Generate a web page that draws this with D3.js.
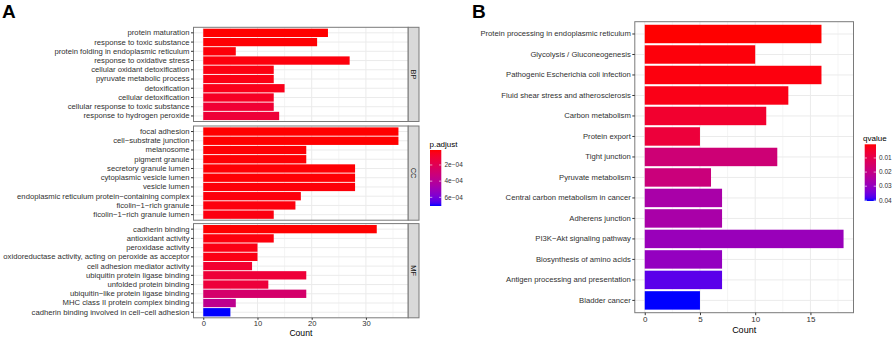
<!DOCTYPE html>
<html>
<head>
<meta charset="utf-8">
<script src="https://cdn.jsdelivr.net/npm/d3@7"></script>
<style>
  body { margin: 0; background: #fff; }
  text { font-family: "Liberation Sans", Arial, sans-serif; }
</style>
</head>
<body>
<svg id="chart" width="892" height="338"></svg>
<script>
// ---- panel A : GO enrichment (three ontologies) ----
const bpTerms = ["protein maturation", "response to toxic substance", "protein folding in endoplasmic reticulum",
  "response to oxidative stress", "cellular oxidant detoxification", "pyruvate metabolic process",
  "detoxification", "cellular detoxification", "cellular response to toxic substance", "response to hydrogen peroxide"]
const bpCount = [23, 21, 6, 27, 13, 13, 15, 13, 13, 14]
const bpPadj = [1.5e-5, 2e-5, 2.5e-5, 3e-5, 3.5e-5, 4e-5, 5e-5, 7e-5, 1.1e-4, 1.2e-4]

const ccTerms = ["focal adhesion", "cell\u2212substrate junction", "melanosome", "pigment granule",
  "secretory granule lumen", "cytoplasmic vesicle lumen", "vesicle lumen",
  "endoplasmic reticulum protein\u2212containing complex", "ficolin\u22121\u2212rich granule", "ficolin\u22121\u2212rich granule lumen"]
const ccCount = [36, 36, 19, 19, 28, 28, 28, 18, 17, 13]
const ccPadj = [1.5e-5, 1.5e-5, 2e-5, 2e-5, 2e-5, 2e-5, 2.5e-5, 3e-5, 3e-5, 3.5e-5]

const mfTerms = ["cadherin binding", "antioxidant activity", "peroxidase activity",
  "oxidoreductase activity, acting on peroxide as acceptor", "cell adhesion mediator activity",
  "ubiquitin protein ligase binding", "unfolded protein binding", "ubiquitin\u2212like protein ligase binding",
  "MHC class II protein complex binding", "cadherin binding involved in cell\u2212cell adhesion"]
const mfCount = [32, 13, 10, 10, 9, 19, 12, 19, 6, 5]
const mfPadj = [1.5e-5, 3e-5, 4e-5, 4e-5, 1e-4, 1.2e-4, 1.3e-4, 2.7e-4, 3.8e-4, 7.07e-4]

const facetNames = ["BP", "CC", "MF"]
const countTicksA = [0, 10, 20, 30]
const padjTicks = [2e-4, 4e-4, 6e-4]
const padjLabels = ["2e\u221204", "4e\u221204", "6e\u221204"]

// ---- panel B : KEGG enrichment ----
const keggTerms = ["Protein processing in endoplasmic reticulum", "Glycolysis / Gluconeogenesis",
  "Pathogenic Escherichia coli infection", "Fluid shear stress and atherosclerosis", "Carbon metabolism",
  "Protein export", "Tight junction", "Pyruvate metabolism", "Central carbon metabolism in cancer",
  "Adherens junction", "PI3K\u2212Akt signaling pathway", "Biosynthesis of amino acids",
  "Antigen processing and presentation", "Bladder cancer"]
const keggCount = [16, 10, 16, 13, 11, 5, 12, 6, 7, 7, 18, 7, 7, 5]
const keggQ = [0.0003, 0.001, 0.0012, 0.002, 0.005, 0.007, 0.017, 0.018, 0.026, 0.026, 0.029, 0.030, 0.037, 0.0405]
const countTicksB = [0, 5, 10, 15]
const qTicks = [0.01, 0.02, 0.03, 0.04]

const svg = d3.select("#chart")
const borderCol = "#7a7a7a"
const gridCol = "#ebebeb"
const labelCol = "#303030"
const yFont = "7.7px"

function gradient(id, scale) {
  let grad = svg.append("defs").append("linearGradient").attr("id", id)
    .attr("x1", 0).attr("y1", 0).attr("x2", 0).attr("y2", 1)
  let dom = scale.domain()
  d3.range(0, 1.0001, 0.05).forEach(t => {
    grad.append("stop").attr("offset", t).attr("stop-color", scale(dom[0] + t * (dom[1] - dom[0])))
  })
}

// ===================== panel A =====================
let xA = d3.scaleLinear().domain([-1.8, 37.8]).range([193.5, 408.2])
let colA = d3.scaleLinear().domain([1.5e-5, 7.07e-4]).range(["red", "blue"]).interpolate(d3.interpolateLab)

let facets = [
  {name: "BP", terms: bpTerms, count: bpCount, padj: bpPadj, top: 27.3},
  {name: "CC", terms: ccTerms, count: ccCount, padj: ccPadj, top: 126},
  {name: "MF", terms: mfTerms, count: mfCount, padj: mfPadj, top: 223.6},
]
let facetH = 94.2

facets.forEach(f => {
  let g = svg.append("g")
  let y = d3.scaleBand().domain(f.terms).range([f.top, f.top + facetH]).paddingInner(0.1).paddingOuter(0.15)
  let rows = f.terms.map((t, i) => ({term: t, count: f.count[i], padj: f.padj[i]}))

  // grid
  g.append("g").selectAll("line.minor").data([5, 15, 25, 35]).enter().append("line")
    .attr("x1", d => xA(d)).attr("x2", d => xA(d)).attr("y1", f.top).attr("y2", f.top + facetH)
    .attr("stroke", gridCol).attr("stroke-width", 0.5)
  g.append("g").selectAll("line.major").data(countTicksA).enter().append("line")
    .attr("x1", d => xA(d)).attr("x2", d => xA(d)).attr("y1", f.top).attr("y2", f.top + facetH)
    .attr("stroke", gridCol).attr("stroke-width", 1)
  g.append("g").selectAll("line.h").data(f.terms).enter().append("line")
    .attr("x1", xA.range()[0]).attr("x2", xA.range()[1])
    .attr("y1", d => y(d) + y.bandwidth() / 2).attr("y2", d => y(d) + y.bandwidth() / 2)
    .attr("stroke", gridCol).attr("stroke-width", 1)

  // bars
  g.append("g").selectAll("rect").data(rows).enter().append("rect")
    .attr("x", xA(0)).attr("y", d => y(d.term))
    .attr("width", d => xA(d.count) - xA(0)).attr("height", y.bandwidth())
    .attr("fill", d => colA(d.padj))

  // border
  g.append("rect").attr("x", xA.range()[0]).attr("y", f.top)
    .attr("width", xA.range()[1] - xA.range()[0]).attr("height", facetH)
    .attr("fill", "none").attr("stroke", borderCol).attr("stroke-width", 1)

  // y axis
  let ax = d3.axisLeft(y).tickSize(2.5).tickPadding(1.5)
  let axg = g.append("g").attr("transform", `translate(${xA.range()[0]},0)`).call(ax)
  axg.select(".domain").remove()
  axg.selectAll("line").attr("stroke", "#333")
  axg.selectAll("text").attr("fill", labelCol).style("font-size", yFont).style("font-family", "Liberation Sans, Arial, sans-serif")

  // strip
  let sx = xA.range()[1]
  g.append("rect").attr("x", sx).attr("y", f.top).attr("width", 10.8).attr("height", facetH)
    .attr("fill", "#d9d9d9").attr("stroke", borderCol).attr("stroke-width", 1)
  g.append("text").attr("transform", `translate(${sx + 5.4},${f.top + facetH / 2}) rotate(90)`)
    .attr("text-anchor", "middle").attr("dy", "0.35em").style("font-size", "7.5px").attr("fill", "#1a1a1a")
    .text(f.name)
})

// x axis A
let axA = svg.append("g").attr("transform", `translate(0,${223.6 + facetH})`)
  .call(d3.axisBottom(xA).tickValues(countTicksA).tickSize(2).tickPadding(1))
axA.select(".domain").remove()
axA.selectAll("line").attr("stroke", "#333")
axA.selectAll("text").attr("fill", labelCol).style("font-size", "7.6px").style("font-family", "Liberation Sans, Arial, sans-serif")
svg.append("text").attr("x", (xA.range()[0] + xA.range()[1]) / 2).attr("y", 335.8)
  .attr("text-anchor", "middle").style("font-size", "8.6px").text("Count")

// legend A
gradient("gradA", colA)
let legA = d3.scaleLinear().domain(colA.domain()).range([150, 206])
svg.append("text").attr("x", 429.5).attr("y", 146.5).style("font-size", "8px").text("p.adjust")
svg.append("rect").attr("x", 430).attr("y", 150).attr("width", 11.3).attr("height", 56).attr("fill", "url(#gradA)")
padjTicks.forEach((v, i) => {
  let yy = legA(v)
  svg.append("line").attr("x1", 430).attr("x2", 432.3).attr("y1", yy).attr("y2", yy).attr("stroke", "#fff").attr("stroke-width", 0.6)
  svg.append("line").attr("x1", 439).attr("x2", 441.3).attr("y1", yy).attr("y2", yy).attr("stroke", "#fff").attr("stroke-width", 0.6)
  svg.append("text").attr("x", 444.5).attr("y", yy).attr("dy", "0.35em").style("font-size", "6.5px")
    .attr("fill", labelCol).text(padjLabels[i])
})

svg.append("text").attr("x", 2).attr("y", 18).style("font-size", "19px").style("font-weight", "bold").text("A")

// ===================== panel B =====================
let xB = d3.scaleLinear().domain([-0.9, 18.9]).range([634.8, 853.5])
let yB = d3.scaleBand().domain(keggTerms).range([21.7, 312.7]).paddingInner(0.1).paddingOuter(0.15)
let colB = d3.scaleLinear().domain([0.0003, 0.0405]).range(["red", "blue"]).interpolate(d3.interpolateLab)
let rowsB = keggTerms.map((t, i) => ({term: t, count: keggCount[i], q: keggQ[i]}))
let gB = svg.append("g")

gB.append("g").selectAll("line").data([2.5, 7.5, 12.5, 17.5]).enter().append("line")
  .attr("x1", d => xB(d)).attr("x2", d => xB(d)).attr("y1", 21.7).attr("y2", 312.7)
  .attr("stroke", gridCol).attr("stroke-width", 0.5)
gB.append("g").selectAll("line").data(countTicksB).enter().append("line")
  .attr("x1", d => xB(d)).attr("x2", d => xB(d)).attr("y1", 21.7).attr("y2", 312.7)
  .attr("stroke", gridCol).attr("stroke-width", 1)
gB.append("g").selectAll("line").data(keggTerms).enter().append("line")
  .attr("x1", 634.8).attr("x2", 853.5)
  .attr("y1", d => yB(d) + yB.bandwidth() / 2).attr("y2", d => yB(d) + yB.bandwidth() / 2)
  .attr("stroke", gridCol).attr("stroke-width", 1)

gB.append("g").selectAll("rect").data(rowsB).enter().append("rect")
  .attr("x", xB(0)).attr("y", d => yB(d.term))
  .attr("width", d => xB(d.count) - xB(0)).attr("height", yB.bandwidth())
  .attr("fill", d => colB(d.q))

gB.append("rect").attr("x", 634.8).attr("y", 21.7).attr("width", 853.5 - 634.8).attr("height", 312.7 - 21.7)
  .attr("fill", "none").attr("stroke", borderCol).attr("stroke-width", 1)

let ayB = gB.append("g").attr("transform", "translate(634.8,0)").call(d3.axisLeft(yB).tickSize(2.5).tickPadding(1.5))
ayB.select(".domain").remove()
ayB.selectAll("line").attr("stroke", "#333")
ayB.selectAll("text").attr("fill", labelCol).style("font-size", yFont).style("font-family", "Liberation Sans, Arial, sans-serif")

let axB = gB.append("g").attr("transform", "translate(0,312.7)")
  .call(d3.axisBottom(xB).tickValues(countTicksB).tickSize(2.5).tickPadding(1))
axB.select(".domain").remove()
axB.selectAll("line").attr("stroke", "#333")
axB.selectAll("text").attr("fill", labelCol).style("font-size", "8px").style("font-family", "Liberation Sans, Arial, sans-serif")
svg.append("text").attr("x", (634.8 + 853.5) / 2).attr("y", 333)
  .attr("text-anchor", "middle").style("font-size", "9px").text("Count")

// legend B
gradient("gradB", colB)
let legB = d3.scaleLinear().domain(colB.domain()).range([144.3, 201])
svg.append("text").attr("x", 863).attr("y", 140.5).style("font-size", "8px").text("qvalue")
svg.append("rect").attr("x", 864.7).attr("y", 144.3).attr("width", 11.3).attr("height", 56.7).attr("fill", "url(#gradB)")
qTicks.forEach(v => {
  let yy = legB(v)
  svg.append("line").attr("x1", 864.7).attr("x2", 867).attr("y1", yy).attr("y2", yy).attr("stroke", "#fff").attr("stroke-width", 0.6)
  svg.append("line").attr("x1", 873.7).attr("x2", 876).attr("y1", yy).attr("y2", yy).attr("stroke", "#fff").attr("stroke-width", 0.6)
  svg.append("text").attr("x", 879).attr("y", yy).attr("dy", "0.35em").style("font-size", "6.5px")
    .attr("fill", labelCol).text(v.toFixed(2))
})

svg.append("text").attr("x", 472).attr("y", 18).style("font-size", "19px").style("font-weight", "bold").text("B")
</script>
</body>
</html>
